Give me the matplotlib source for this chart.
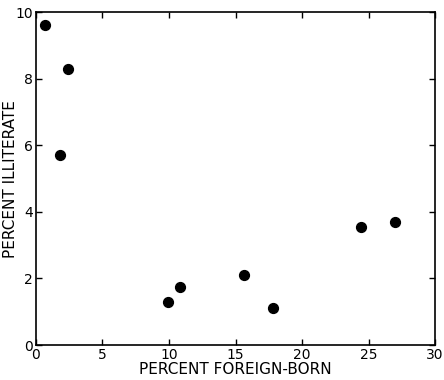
import matplotlib
matplotlib.use("Agg")
import matplotlib.pyplot as plt

# percent foreign-born vs percent illiterate
pct_foreign = [0.7, 1.8, 2.4, 9.9, 10.8, 15.6, 17.8, 24.4, 27.0]
pct_illiterate = [9.6, 5.7, 8.3, 1.3, 1.75, 2.1, 1.1, 3.55, 3.7]

x_ticks = [0, 5, 10, 15, 20, 25, 30]
y_ticks = [0, 2, 4, 6, 8, 10]

fig = plt.figure(figsize=(4.44, 3.80), dpi=100)
ax = fig.add_axes([0.081, 0.092, 0.899, 0.876])

ax.scatter(pct_foreign, pct_illiterate, s=50, color="black", zorder=3)

ax.set_xlim(0, 30)
ax.set_ylim(0, 10)
ax.set_xticks(x_ticks)
ax.set_yticks(y_ticks)
ax.tick_params(direction="in", length=4, width=1, top=True, right=True,
               labeltop=False, labelright=False, labelsize=10, pad=2)
for s in ax.spines.values():
    s.set_linewidth(1.2)

ax.set_xlabel("PERCENT FOREIGN-BORN", fontsize=11)
ax.xaxis.set_label_coords(0.5, -0.05)
ax.set_ylabel("PERCENT ILLITERATE", fontsize=11)
ax.yaxis.set_label_coords(-0.045, 0.5)

fig.savefig("out.png", dpi=100)
